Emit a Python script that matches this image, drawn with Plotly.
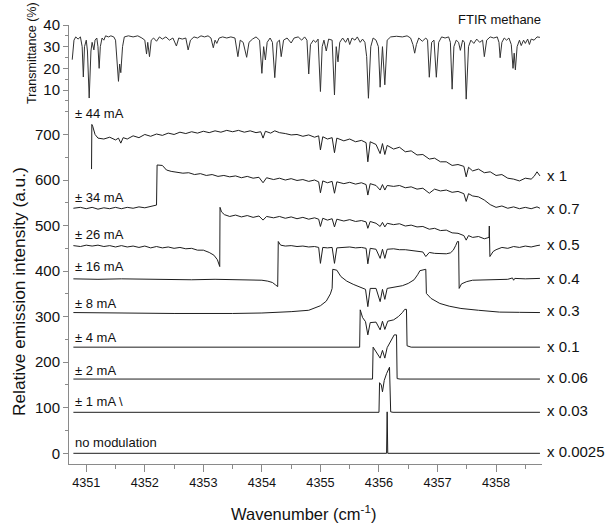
import plotly.graph_objects as go

# ---------------- data ----------------
ftir_wn = [4350.76, 4350.79, 4350.82, 4350.86, 4350.90, 4350.93, 4350.95, 4350.97, 4351.00, 4351.02,
           4351.05, 4351.08, 4351.10, 4351.13, 4351.15, 4351.18, 4351.20, 4351.22, 4351.24, 4351.27,
           4351.30, 4351.33, 4351.38, 4351.42, 4351.47, 4351.50, 4351.55, 4351.57, 4351.59, 4351.62,
           4351.65, 4351.72, 4351.80, 4351.88, 4351.95, 4352.00, 4352.03, 4352.05, 4352.08, 4352.11,
           4352.15, 4352.20, 4352.25, 4352.30, 4352.36, 4352.42, 4352.48, 4352.54, 4352.58, 4352.64,
           4352.70, 4352.74, 4352.78, 4352.84, 4352.90, 4352.96, 4353.02, 4353.08, 4353.13, 4353.17,
           4353.20, 4353.23, 4353.27, 4353.33, 4353.40, 4353.47, 4353.54, 4353.59, 4353.63, 4353.68,
           4353.74, 4353.78, 4353.84, 4353.90, 4353.96, 4354.00, 4354.03, 4354.06, 4354.09, 4354.14,
           4354.18, 4354.22, 4354.26, 4354.30, 4354.33, 4354.37, 4354.43, 4354.50, 4354.55, 4354.62,
           4354.68, 4354.73, 4354.77, 4354.80, 4354.83, 4354.88, 4354.92, 4354.96, 4355.00, 4355.03,
           4355.06, 4355.10, 4355.14, 4355.20, 4355.24, 4355.27, 4355.30, 4355.33, 4355.38, 4355.43,
           4355.47, 4355.50, 4355.54, 4355.59, 4355.63, 4355.68, 4355.72, 4355.76, 4355.79, 4355.82,
           4355.86, 4355.90, 4355.95, 4355.99, 4356.02, 4356.06, 4356.10, 4356.14, 4356.20, 4356.30,
           4356.40, 4356.48, 4356.54, 4356.58, 4356.61, 4356.64, 4356.68, 4356.74, 4356.80, 4356.83,
           4356.86, 4356.90, 4356.94, 4356.98, 4357.02, 4357.07, 4357.13, 4357.19, 4357.22, 4357.25,
           4357.28, 4357.32, 4357.36, 4357.39, 4357.43, 4357.46, 4357.49, 4357.53, 4357.57, 4357.62,
           4357.67, 4357.72, 4357.77, 4357.80, 4357.84, 4357.90, 4357.96, 4358.02, 4358.05, 4358.07,
           4358.10, 4358.14, 4358.18, 4358.22, 4358.26, 4358.29, 4358.31, 4358.33, 4358.36, 4358.40,
           4358.43, 4358.47, 4358.50, 4358.54, 4358.57, 4358.60, 4358.65, 4358.70, 4358.75]
ftir_T = [24.0, 33.0, 34.5, 33.5, 34.5, 30.0, 16.0, 30.0, 33.0, 28.0,
          6.3, 28.0, 32.0, 28.5, 33.0, 34.0, 30.0, 20.0, 30.0, 34.0,
          33.0, 35.0, 34.5, 35.0, 34.5, 33.0, 14.0, 22.0, 18.0, 30.0,
          34.5, 35.0, 34.5, 35.0, 34.0, 33.0, 26.6, 32.0, 25.4, 33.0,
          34.0, 32.5, 34.5, 33.5, 34.5, 33.0, 34.0, 30.3, 34.0, 33.5,
          34.0, 28.5, 33.0, 34.5, 34.0, 35.0, 34.5, 35.0, 34.0, 29.5,
          33.0, 31.5, 34.0, 34.5, 34.0, 34.5, 34.0, 25.4, 33.0, 32.0,
          25.1, 32.0, 33.5, 34.5, 33.0, 17.7, 30.0, 23.9, 32.0, 34.0,
          32.0, 15.7, 32.0, 33.0, 25.4, 33.0, 34.0, 31.7, 34.0, 34.5,
          33.0, 34.5, 33.0, 17.4, 31.0, 33.0, 32.0, 33.5, 9.3, 30.0,
          33.0, 28.0, 33.5, 33.0, 7.7, 30.0, 23.0, 32.0, 34.0, 32.0,
          34.0, 31.0, 34.0, 33.0, 34.5, 32.0, 33.5, 32.0, 25.4, 6.2,
          30.0, 34.0, 33.0, 30.0, 11.3, 30.0, 12.4, 33.0, 34.5, 34.8,
          34.5, 35.0, 34.0, 31.0, 27.0, 31.0, 34.0, 32.5, 34.0, 33.0,
          15.9, 32.0, 33.0, 15.9, 32.0, 34.5, 34.0, 34.5, 32.0, 10.4,
          30.0, 33.0, 32.0, 28.3, 33.0, 32.0, 5.8, 30.0, 33.0, 31.5,
          33.5, 32.0, 33.0, 25.4, 33.0, 34.5, 34.0, 34.5, 32.0, 24.9,
          32.0, 34.0, 33.0, 34.0, 31.0, 20.0, 27.0, 19.3, 30.0, 33.0,
          30.5, 33.0, 31.5, 33.5, 31.0, 33.5, 33.0, 34.5, 34.3]

wn_44 = [4351.09, 4351.095, 4351.11, 4351.15, 4351.20, 4351.30, 4351.40, 4351.50, 4351.55, 4351.59,
         4351.63, 4351.70, 4351.80, 4351.90, 4352.00, 4352.10, 4352.20, 4352.30, 4352.40, 4352.50,
         4352.60, 4352.70, 4352.80, 4352.90, 4353.00, 4353.10, 4353.20, 4353.30, 4353.40, 4353.50,
         4353.60, 4353.70, 4353.80, 4353.90, 4353.98, 4354.02, 4354.06, 4354.15, 4354.22, 4354.30,
         4354.40, 4354.50, 4354.60, 4354.70, 4354.80, 4354.90, 4354.97, 4355.00, 4355.04, 4355.12,
         4355.20, 4355.24, 4355.28, 4355.40, 4355.50, 4355.60, 4355.70, 4355.78, 4355.81, 4355.85,
         4355.95, 4356.02, 4356.06, 4356.10, 4356.14, 4356.25, 4356.35, 4356.45, 4356.55, 4356.65,
         4356.75, 4356.86, 4356.95, 4357.05, 4357.15, 4357.25, 4357.35, 4357.45, 4357.49, 4357.53,
         4357.60, 4357.70, 4357.80, 4357.90, 4358.00, 4358.10, 4358.20, 4358.30, 4358.40, 4358.50,
         4358.60, 4358.65, 4358.70, 4358.75]
int_44 = [624, 722, 718, 700, 692, 690, 694, 688, 692, 681,
          693, 690, 697, 693, 700, 696, 701, 698, 703, 700,
          705, 702, 706, 703, 707, 704, 708, 705, 709, 706,
          709, 705, 708, 704, 706, 692, 707, 703, 708, 704,
          702, 699, 700, 696, 699, 694, 697, 666, 695, 690,
          693, 660, 692, 686, 690, 684, 687, 682, 640, 684,
          678, 658, 680, 656, 676, 668, 672, 662, 664, 655,
          656, 646, 648, 640, 640, 632, 634, 630, 607, 628,
          620, 624, 616, 618, 610, 612, 604, 602, 598, 604,
          602, 608, 618, 609]

wn_34 = [4350.78, 4350.90, 4351.00, 4351.10, 4351.20, 4351.30, 4351.40, 4351.50, 4351.60, 4351.70,
         4351.80, 4351.90, 4352.00, 4352.10, 4352.20, 4352.21, 4352.30, 4352.37, 4352.45, 4352.55,
         4352.65, 4352.75, 4352.85, 4352.95, 4353.05, 4353.15, 4353.25, 4353.35, 4353.45, 4353.55,
         4353.65, 4353.75, 4353.85, 4353.95, 4354.02, 4354.08, 4354.20, 4354.30, 4354.40, 4354.50,
         4354.60, 4354.70, 4354.80, 4354.90, 4354.97, 4355.00, 4355.04, 4355.12, 4355.20, 4355.24,
         4355.28, 4355.40, 4355.50, 4355.60, 4355.70, 4355.78, 4355.81, 4355.85, 4355.95, 4356.02,
         4356.06, 4356.10, 4356.14, 4356.25, 4356.35, 4356.45, 4356.55, 4356.65, 4356.75, 4356.86,
         4356.95, 4357.05, 4357.15, 4357.25, 4357.35, 4357.45, 4357.49, 4357.53, 4357.60, 4357.70,
         4357.80, 4357.90, 4358.00, 4358.10, 4358.20, 4358.30, 4358.40, 4358.50, 4358.60, 4358.70,
         4358.75]
int_34 = [538, 540, 537, 540, 536, 539, 537, 540, 537, 540,
          538, 541, 539, 542, 545, 633, 632, 622, 619, 617,
          615, 616, 612, 614, 610, 612, 608, 610, 607, 609,
          605, 608, 604, 606, 594, 605, 601, 604, 600, 603,
          599, 601, 597, 600, 596, 572, 598, 594, 597, 571,
          596, 592, 595, 591, 594, 590, 567, 592, 588, 578,
          590, 578, 588, 586, 588, 583, 585, 580, 582, 571,
          580, 576, 578, 573, 575, 570, 553, 570, 565, 563,
          556, 546, 540, 543, 538, 541, 537, 540, 537, 541,
          538]

wn_26 = [4350.78, 4350.90, 4351.00, 4351.10, 4351.20, 4351.30, 4351.40, 4351.50, 4351.60, 4351.70,
         4351.80, 4351.90, 4352.00, 4352.10, 4352.20, 4352.30, 4352.40, 4352.50, 4352.60, 4352.70,
         4352.80, 4352.90, 4353.00, 4353.10, 4353.18, 4353.24, 4353.28, 4353.285, 4353.31, 4353.36,
         4353.45, 4353.55, 4353.65, 4353.75, 4353.85, 4353.95, 4354.02, 4354.08, 4354.20, 4354.30,
         4354.40, 4354.50, 4354.60, 4354.70, 4354.80, 4354.90, 4354.97, 4355.00, 4355.04, 4355.12,
         4355.20, 4355.24, 4355.28, 4355.40, 4355.50, 4355.60, 4355.70, 4355.78, 4355.81, 4355.85,
         4355.95, 4356.02, 4356.06, 4356.10, 4356.14, 4356.25, 4356.35, 4356.45, 4356.55, 4356.65,
         4356.75, 4356.86, 4356.95, 4357.05, 4357.15, 4357.25, 4357.35, 4357.45, 4357.49, 4357.53,
         4357.60, 4357.70, 4357.80, 4357.88, 4357.885, 4357.895, 4357.95, 4358.00, 4358.10, 4358.20,
         4358.30, 4358.40, 4358.50, 4358.60, 4358.70, 4358.75]
int_26 = [456, 454, 457, 455, 457, 454, 456, 453, 456, 453,
          455, 452, 455, 451, 454, 451, 453, 450, 452, 449,
          450, 446, 446, 441, 435, 425, 410, 540, 530, 524,
          520, 523, 519, 522, 518, 521, 512, 520, 517, 520,
          516, 519, 515, 518, 514, 517, 514, 498, 516, 512,
          515, 497, 514, 510, 513, 509, 511, 508, 494, 509,
          505, 498, 507, 497, 505, 502, 504, 499, 501, 497,
          498, 492, 494, 489, 490, 484, 483, 478, 468, 478,
          474, 476, 471, 474, 499, 432, 443, 447, 452, 450,
          454, 452, 455, 453, 456, 457]

wn_16 = [4350.78, 4351.20, 4351.60, 4352.00, 4352.40, 4352.80, 4353.20, 4353.60, 4354.00, 4354.10,
         4354.18, 4354.23, 4354.27, 4354.28, 4354.32, 4354.40, 4354.50, 4354.60, 4354.70, 4354.80,
         4354.90, 4354.97, 4355.00, 4355.04, 4355.12, 4355.20, 4355.24, 4355.28, 4355.40, 4355.50,
         4355.60, 4355.70, 4355.78, 4355.81, 4355.85, 4355.95, 4356.02, 4356.06, 4356.10, 4356.14,
         4356.25, 4356.35, 4356.45, 4356.55, 4356.65, 4356.75, 4356.80, 4356.86, 4356.95, 4357.05,
         4357.15, 4357.22, 4357.27, 4357.31, 4357.34, 4357.36, 4357.37, 4357.41, 4357.50, 4357.60,
         4357.80, 4358.00, 4358.20, 4358.28, 4358.30, 4358.32, 4358.50, 4358.75]
int_16 = [383, 382, 383, 382, 382, 381, 382, 381, 380, 378,
          375, 370, 366, 465, 457, 455, 456, 454, 455, 453,
          454, 452, 417, 452, 451, 452, 417, 451, 452, 453,
          451, 452, 450, 416, 450, 448, 428, 448, 428, 448,
          449, 447, 447, 445, 444, 442, 432, 441, 439, 438,
          438, 440, 446, 456, 465, 465, 362, 372, 377, 380,
          381, 382, 382, 385, 380, 384, 383, 384]

wn_8 = [4350.78, 4351.50, 4352.50, 4353.50, 4354.00, 4354.50, 4354.80, 4355.00, 4355.10, 4355.17,
        4355.20, 4355.21, 4355.28, 4355.35, 4355.45, 4355.56, 4355.70, 4355.77, 4355.81, 4355.85,
        4355.95, 4356.02, 4356.06, 4356.10, 4356.14, 4356.25, 4356.40, 4356.50, 4356.60, 4356.66,
        4356.70, 4356.80, 4356.81, 4356.89, 4357.04, 4357.20, 4357.40, 4357.70, 4358.06, 4358.40,
        4358.75]
int_8 = [309, 308, 307, 307, 308, 311, 314, 324, 334, 350,
         362, 404, 402, 388, 378, 371, 364, 360, 322, 362,
         362, 333, 360, 338, 362, 364, 368, 373, 381, 392,
         401, 404, 351, 340, 329, 323, 318, 314, 310, 309.5,
         309]

wn_4 = [4350.78, 4355.67, 4355.68, 4355.72, 4355.77, 4355.81, 4355.85, 4355.95, 4356.02, 4356.06,
        4356.10, 4356.15, 4356.25, 4356.33, 4356.40, 4356.44, 4356.47, 4356.48, 4356.55, 4358.75]
int_4 = [233, 233, 315, 298, 289, 260, 287, 288, 271, 290,
         272, 290, 293, 300, 309, 316, 316, 236, 233, 233]

wn_2 = [4350.78, 4355.89, 4355.90, 4355.95, 4356.02, 4356.06, 4356.10, 4356.14, 4356.20, 4356.26,
        4356.30, 4356.31, 4356.36, 4358.75]
int_2 = [163, 163, 233, 222, 209, 226, 209, 232, 245, 260,
         260, 164, 163, 163]

wn_1 = [4350.78, 4356.00, 4356.01, 4356.04, 4356.06, 4356.09, 4356.13, 4356.18, 4356.20, 4356.24, 4358.75]
int_1 = [90, 90, 155, 150, 135, 160, 175, 189, 91, 90, 90]

wn_0 = [4350.78, 4356.13, 4356.14, 4356.15, 4358.75]
int_0 = [0, 0, 91, 0, 0]

current_labels = ["± 44 mA", "± 34 mA", "± 26 mA", "± 16 mA", "± 8 mA",
                  "± 4 mA", "± 2 mA", "± 1 mA \\", "no modulation"]
scale_labels = ["x 1", "x 0.7", "x 0.5", "x 0.4", "x 0.3",
                "x 0.1", "x 0.06", "x 0.03", "x 0.0025"]
x_ticks = [4351, 4352, 4353, 4354, 4355, 4356, 4357, 4358]
y_ticks = [0, 100, 200, 300, 400, 500, 600, 700]
t_ticks = [10, 20, 30, 40]

# ---------------- figure ----------------
FONT = "Liberation Sans, Arial, sans-serif"
AXC = "#8a8a8a"
LC = "#1e1e1e"

fig = go.Figure()
fig.add_trace(go.Scatter(x=ftir_wn, y=ftir_T, mode="lines", xaxis="x2", yaxis="y2",
                         line=dict(color="#333333", width=1)))
for xs, ys in [(wn_44, int_44), (wn_34, int_34), (wn_26, int_26), (wn_16, int_16),
               (wn_8, int_8), (wn_4, int_4), (wn_2, int_2), (wn_1, int_1), (wn_0, int_0)]:
    fig.add_trace(go.Scatter(x=xs, y=ys, mode="lines", line=dict(color=LC, width=1)))

PL, PR, PT, PB = 69, 542, 25, 464
W, H = 607, 526


def px_x(px):
    return (px - PL) / (PR - PL)


def px_y(py):
    return (PB - py) / (PB - PT)


split = px_y(111.7)
xr = [4350.705, 4358.785]

fig.update_layout(
    width=W, height=H,
    margin=dict(l=PL, r=W - PR, t=PT, b=H - PB),
    paper_bgcolor="white", plot_bgcolor="white",
    showlegend=False,
    font=dict(family=FONT, color="#111111"),
    xaxis=dict(domain=[0, 1], range=xr, tickmode="array", tickvals=x_ticks,
               ticks="outside", ticklen=7, tickcolor=AXC, tickwidth=1,
               showline=True, linecolor=AXC, linewidth=1, showgrid=False, zeroline=False,
               tickfont=dict(size=12.7, family=FONT, color="#111111"),
               minor=dict(tickmode="array", tickvals=[v + 0.5 for v in x_ticks],
                          ticks="outside", ticklen=4, tickcolor=AXC)),
    yaxis=dict(domain=[0, split], range=[-23.5, 750], tickmode="array", tickvals=y_ticks,
               ticks="outside", ticklen=5, tickcolor=AXC, tickwidth=1,
               showline=True, linecolor=AXC, linewidth=1, showgrid=False, zeroline=False,
               tickfont=dict(size=15, family=FONT, color="#111111"),
               minor=dict(tickmode="array", tickvals=[v + 50 for v in y_ticks],
                          ticks="outside", ticklen=3, tickcolor=AXC)),
    xaxis2=dict(domain=[0, 1], range=xr, anchor="y2", visible=False),
    yaxis2=dict(domain=[split, 1], range=[0, 40], anchor="x2", tickmode="array", tickvals=t_ticks,
                ticks="outside", ticklen=5, tickcolor=AXC, tickwidth=1,
                showline=True, linecolor=AXC, linewidth=1, showgrid=False, zeroline=False,
                tickfont=dict(size=15, family=FONT, color="#111111"),
                minor=dict(tickmode="array", tickvals=[5, 15, 25, 35],
                           ticks="outside", ticklen=3, tickcolor=AXC)),
)

ann = []
left_y = [113, 197.5, 234, 266, 303, 337, 370, 401.5, 442.5]
for txt, py in zip(current_labels, left_y):
    ann.append(dict(text=txt, x=px_x(73), y=px_y(py), xref="paper", yref="paper",
                    xanchor="left", yanchor="middle", showarrow=False,
                    font=dict(size=13, family=FONT, color="#111111")))
right_y = [175, 208, 245, 278, 310, 346, 377.5, 410, 451]
for txt, py in zip(scale_labels, right_y):
    ann.append(dict(text=txt, x=px_x(545), y=px_y(py), xref="paper", yref="paper",
                    xanchor="left", yanchor="middle", showarrow=False,
                    font=dict(size=15, family=FONT, color="#111111")))
ann.append(dict(text="FTIR methane", x=px_x(456), y=px_y(20), xref="paper", yref="paper",
                xanchor="left", yanchor="middle", showarrow=False,
                font=dict(size=13, family=FONT, color="#111111")))
ann.append(dict(text="Transmittance (%)", x=px_x(32), y=px_y(53), xref="paper", yref="paper",
                xanchor="center", yanchor="middle", textangle=-90, showarrow=False,
                font=dict(size=12.5, family=FONT, color="#111111")))
ann.append(dict(text="Relative emission intensity (a.u.)", x=px_x(19), y=px_y(292),
                xref="paper", yref="paper", xanchor="center", yanchor="middle",
                textangle=-90, showarrow=False,
                font=dict(size=17.3, family=FONT, color="#111111")))
ann.append(dict(text="Wavenumber (cm<sup>-1</sup>)", x=px_x(303.5), y=px_y(513),
                xref="paper", yref="paper", xanchor="center", yanchor="middle",
                showarrow=False, font=dict(size=16.5, family=FONT, color="#111111")))
fig.update_layout(annotations=ann)

fig.write_html("out.html")
